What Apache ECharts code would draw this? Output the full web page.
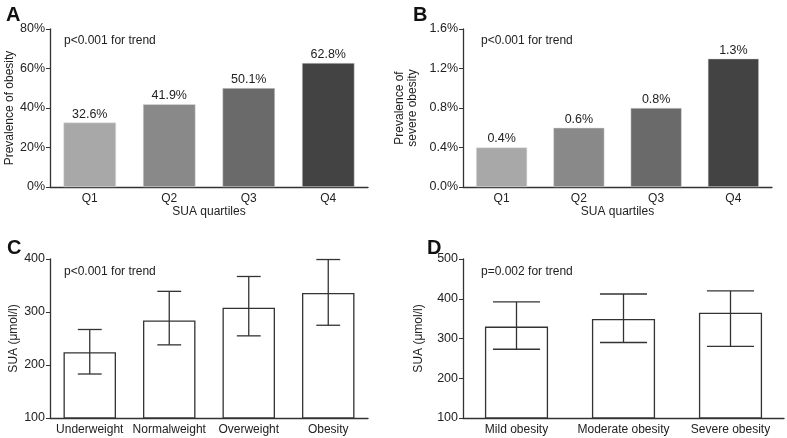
<!DOCTYPE html>
<html>
<head>
<meta charset="utf-8">
<script src="https://cdn.jsdelivr.net/npm/echarts@6/dist/echarts.min.js"></script>
<style>
  html, body { margin: 0; padding: 0; background: #fff; }
  #main { width: 787px; height: 438px; }
</style>
</head>
<body>
<div id="main"></div>
<script>
  // panel A / B
  var quartiles = ['Q1', 'Q2', 'Q3', 'Q4'];
  var obesityPrev = [32.6, 41.9, 50.1, 62.8];
  var severePrev = [0.4, 0.6, 0.8, 1.3];
  var barGrays = ['#a8a8a8', '#898989', '#6a6a6a', '#434343'];

  // panel C
  var bmiGroups = ['Underweight', 'Normalweight', 'Overweight', 'Obesity'];
  var suaByBmi = [224, 284, 308, 336];
  var suaByBmiLow = [183, 238, 255, 275];
  var suaByBmiHigh = [267, 339, 367, 399];

  // panel D
  var obesityGroups = ['Mild obesity', 'Moderate obesity', 'Severe obesity'];
  var suaByObesity = [330, 349, 365];
  var suaByObesityLow = [273, 290, 280];
  var suaByObesityHigh = [392, 412, 420];

  var font = 'Liberation Sans, Arial, sans-serif';
  var axisCol = '#333';

  function errData(low, high) {
    return low.map(function (v, i) { return [i, v, high[i]]; });
  }

  function errSeries(idx, data, capFrac) {
    return {
      type: 'custom',
      xAxisIndex: idx, yAxisIndex: idx,
      z: 5,
      data: data,
      renderItem: function (params, api) {
        var lo = api.coord([api.value(0), api.value(1)]);
        var hi = api.coord([api.value(0), api.value(2)]);
        var half = api.size([1, 0])[0] * capFrac / 2;
        var st = { stroke: axisCol, lineWidth: 1.3 };
        return {
          type: 'group',
          children: [
            { type: 'line', shape: { x1: lo[0], y1: lo[1], x2: hi[0], y2: hi[1] }, style: st },
            { type: 'line', shape: { x1: hi[0] - half, y1: hi[1], x2: hi[0] + half, y2: hi[1] }, style: st },
            { type: 'line', shape: { x1: lo[0] - half, y1: lo[1], x2: lo[0] + half, y2: lo[1] }, style: st }
          ]
        };
      }
    };
  }

  function xAx(idx, cats, name) {
    return {
      type: 'category', gridIndex: idx, data: cats,
      name: name || '', nameLocation: 'middle', nameGap: 16,
      nameTextStyle: { fontFamily: font, fontSize: 12, color: '#222' },
      axisLine: { lineStyle: { color: axisCol, width: 1.3 } },
      axisTick: { alignWithLabel: true, length: 4, lineStyle: { color: axisCol } },
      axisLabel: { fontFamily: font, fontSize: 12, color: '#222', margin: 6, interval: 0 }
    };
  }

  function yAx(idx, min, max, interval, name, gap, fmt) {
    return {
      type: 'value', gridIndex: idx, min: min, max: max, interval: interval,
      name: name, nameLocation: 'middle', nameGap: gap,
      nameTextStyle: { fontFamily: font, fontSize: 12, color: '#222', lineHeight: 13 },
      axisLine: { show: true, lineStyle: { color: axisCol, width: 1.3 } },
      axisTick: { show: true, length: 4, lineStyle: { color: axisCol } },
      splitLine: { show: false },
      axisLabel: { fontFamily: font, fontSize: 12.5, color: '#222', margin: 5, formatter: fmt }
    };
  }

  var chart = echarts.init(document.getElementById('main'));
  chart.setOption({
    animation: false,
    backgroundColor: '#fff',
    title: [
      { text: 'A', left: 1, top: 0, textStyle: { fontFamily: font, fontSize: 20, fontWeight: 'bold', color: '#111' } },
      { text: 'B', left: 408, top: 0, textStyle: { fontFamily: font, fontSize: 20, fontWeight: 'bold', color: '#111' } },
      { text: 'C', left: 2, top: 233, textStyle: { fontFamily: font, fontSize: 20, fontWeight: 'bold', color: '#111' } },
      { text: 'D', left: 422, top: 233, textStyle: { fontFamily: font, fontSize: 20, fontWeight: 'bold', color: '#111' } },
      { text: 'p<0.001 for trend', left: 59, top: 30, textStyle: { fontFamily: font, fontSize: 12, fontWeight: 'normal', color: '#222' } },
      { text: 'p<0.001 for trend', left: 476, top: 30, textStyle: { fontFamily: font, fontSize: 12, fontWeight: 'normal', color: '#222' } },
      { text: 'p<0.001 for trend', left: 59, top: 261, textStyle: { fontFamily: font, fontSize: 12, fontWeight: 'normal', color: '#222' } },
      { text: 'p=0.002 for trend', left: 476, top: 261, textStyle: { fontFamily: font, fontSize: 12, fontWeight: 'normal', color: '#222' } }
    ],
    grid: [
      { left: 50, top: 29, width: 318, height: 158 },
      { left: 463, top: 29, width: 309, height: 158 },
      { left: 50, top: 259, width: 318, height: 159 },
      { left: 463, top: 259, width: 321, height: 159 }
    ],
    xAxis: [
      xAx(0, quartiles, 'SUA quartiles'),
      xAx(1, quartiles, 'SUA quartiles'),
      xAx(2, bmiGroups),
      xAx(3, obesityGroups)
    ],
    yAxis: [
      yAx(0, 0, 80, 20, 'Prevalence of obesity', 34, '{value}%'),
      yAx(1, 0, 1.6, 0.4, 'Prevalence of\nsevere obesity', 44, function (v) { return v.toFixed(1) + '%'; }),
      yAx(2, 100, 400, 100, 'SUA (μmol/l)', 30),
      yAx(3, 100, 500, 100, 'SUA (μmol/l)', 38)
    ],
    series: [
      {
        type: 'bar', xAxisIndex: 0, yAxisIndex: 0, barWidth: '66%',
        data: obesityPrev.map(function (v, i) { return { value: v, itemStyle: { color: barGrays[i] } }; }),
        itemStyle: { borderColor: '#ddd', borderWidth: 0.5 },
        label: { show: true, position: 'top', distance: 2, fontFamily: font, fontSize: 12.5, color: '#222', formatter: '{c}%' }
      },
      {
        type: 'bar', xAxisIndex: 1, yAxisIndex: 1, barWidth: '66%',
        data: severePrev.map(function (v, i) { return { value: v, itemStyle: { color: barGrays[i] } }; }),
        itemStyle: { borderColor: '#ddd', borderWidth: 0.5 },
        label: { show: true, position: 'top', distance: 2, fontFamily: font, fontSize: 12.5, color: '#222',
          formatter: function (p) { return p.value.toFixed(1) + '%'; } }
      },
      {
        type: 'bar', xAxisIndex: 2, yAxisIndex: 2, barWidth: '66%',
        data: suaByBmi,
        itemStyle: { color: '#fff', borderColor: axisCol, borderWidth: 1.3 }
      },
      errSeries(2, errData(suaByBmiLow, suaByBmiHigh), 0.3),
      {
        type: 'bar', xAxisIndex: 3, yAxisIndex: 3, barWidth: '59%',
        data: suaByObesity,
        itemStyle: { color: '#fff', borderColor: axisCol, borderWidth: 1.3 }
      },
      errSeries(3, errData(suaByObesityLow, suaByObesityHigh), 0.44)
    ]
  });
</script>
</body>
</html>
